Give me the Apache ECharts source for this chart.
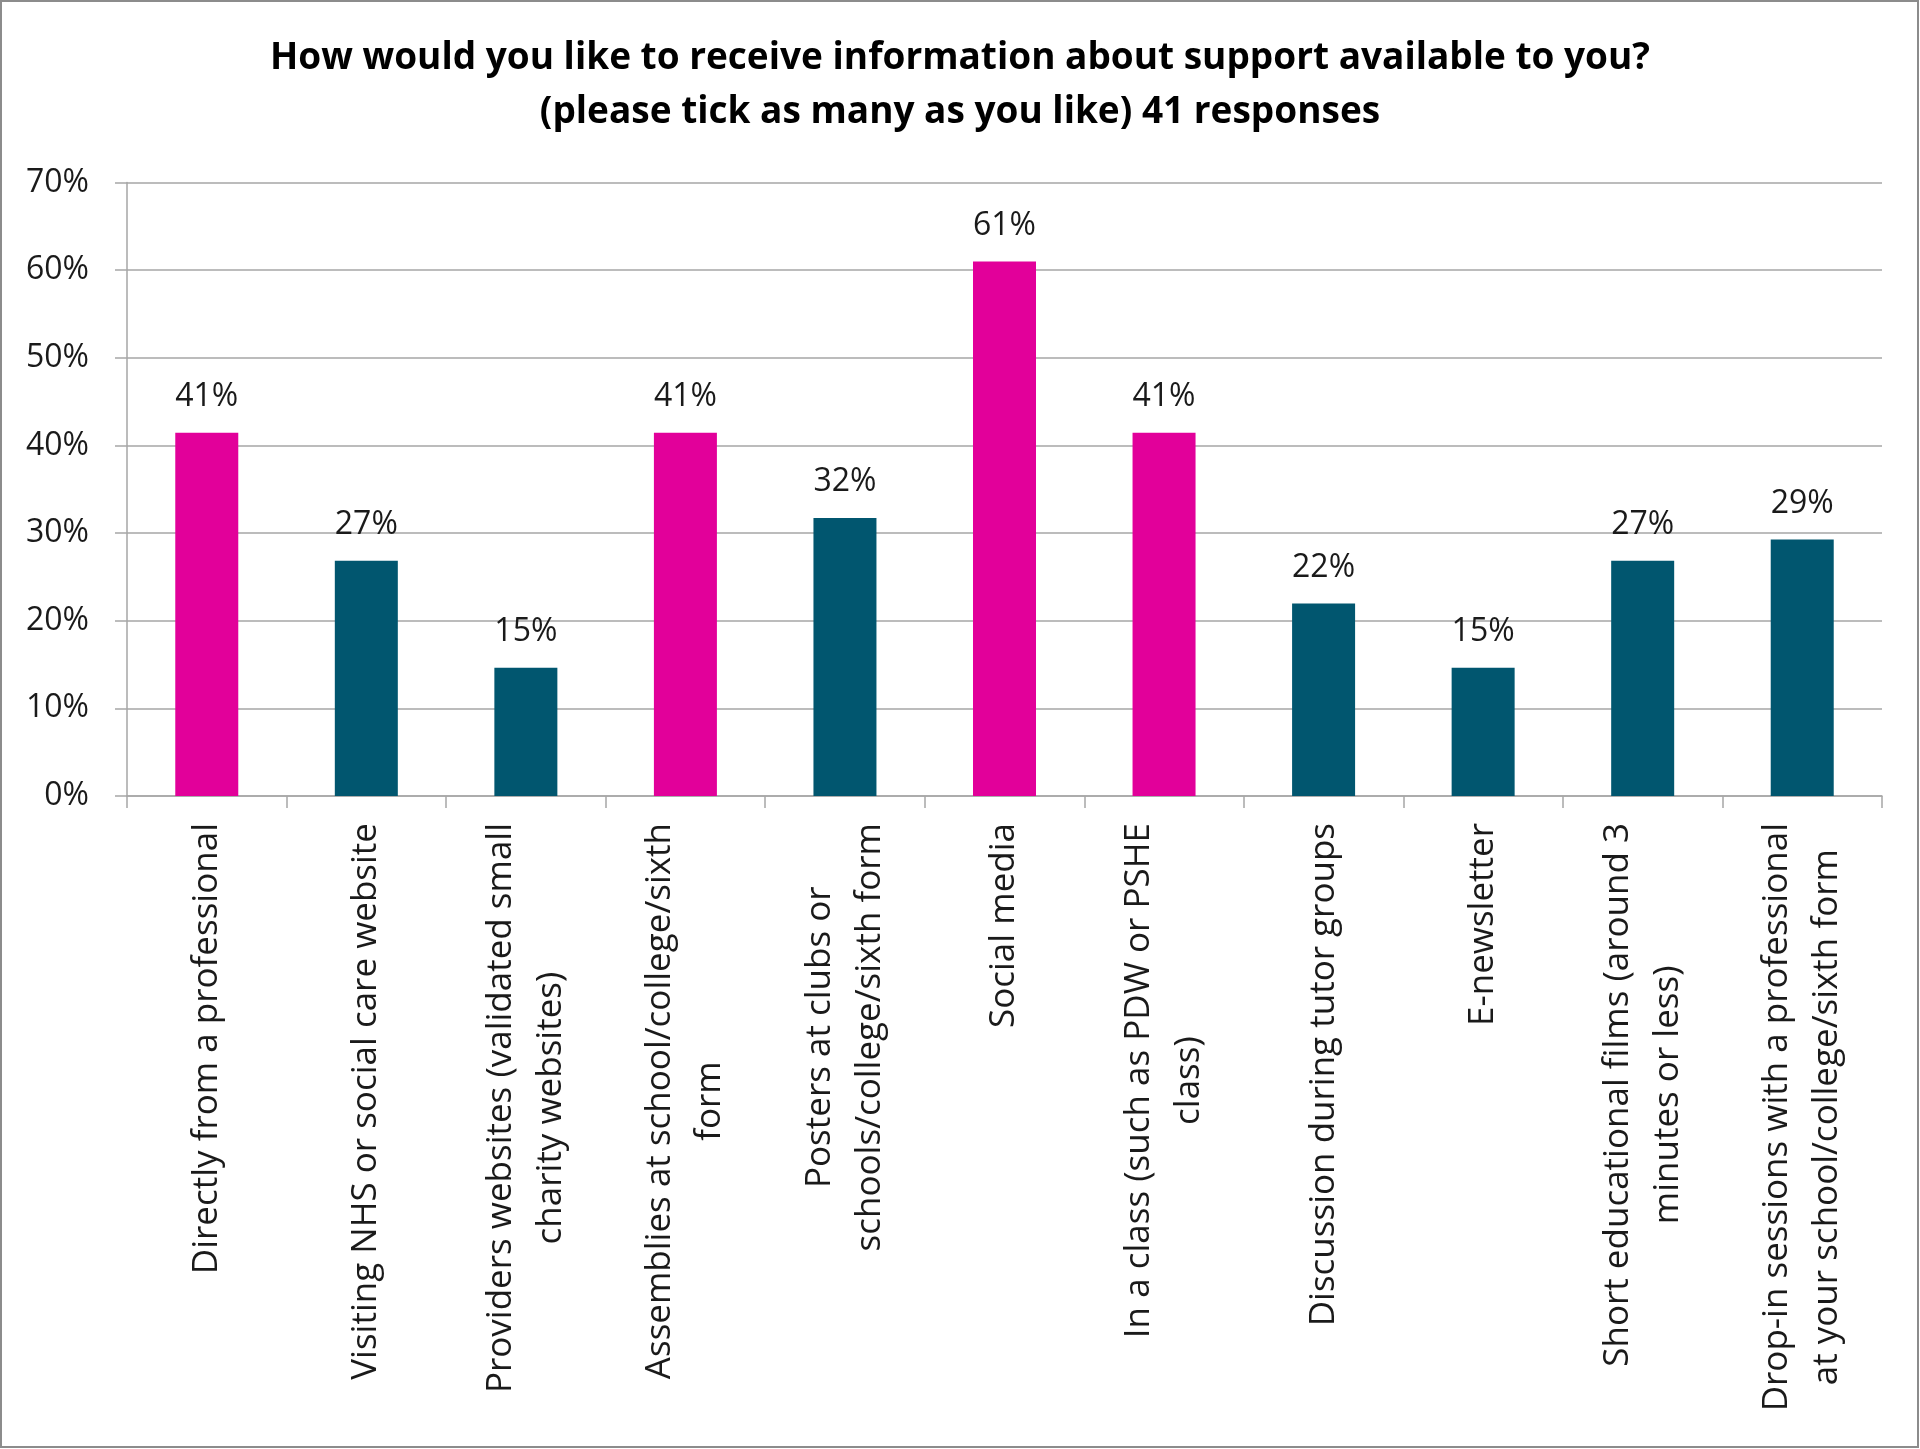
<!DOCTYPE html>
<html>
<head>
<meta charset="utf-8">
<style>
  html, body { margin: 0; padding: 0; background: #ffffff; }
  #chart { width: 1920px; height: 1449px; }
</style>
<script src="https://cdn.jsdelivr.net/npm/echarts@6/dist/echarts.min.js"></script>
</head>
<body>
<div id="chart"></div>
<script>
// ---- Data ----
const titleLines = [
  'How would you like to receive information about support available to you?',
  '(please tick as many as you like) 41 responses'
];
const categories = [
  'Directly from a professional',
  'Visiting NHS or social care website',
  'Providers websites (validated small\ncharity websites)',
  'Assemblies at school/college/sixth\nform',
  'Posters at clubs or\nschools/college/sixth form',
  'Social media',
  'In a class (such as PDW or PSHE\nclass)',
  'Discussion during tutor groups',
  'E-newsletter',
  'Short educational films (around 3\nminutes or less)',
  'Drop-in sessions with a professional\nat your school/college/sixth form'
];
const values = [41.46, 26.83, 14.63, 41.46, 31.71, 60.98, 41.46, 21.95, 14.63, 26.83, 29.27];
const highlighted = [0, 3, 5, 6];
const yTicks = [0, 10, 20, 30, 40, 50, 60, 70];

// ---- Style ----
const PINK = '#E2009A';
const TEAL = '#01566F';
const GRID = '#A6A6A6';
const FONT = '"Open Sans", Lato, "Noto Sans", sans-serif';

const chart = echarts.init(document.getElementById('chart'), null, { renderer: 'canvas' });

const option = {
  backgroundColor: '#ffffff',
  animation: false,
  title: {
    text: titleLines.join('\n'),
    left: 'center',
    top: 26,
    textStyle: {
      fontFamily: FONT,
      fontSize: 37,
      fontWeight: 'bold',
      color: '#000000',
      lineHeight: 54
    }
  },
  graphic: [{
    type: 'rect',
    shape: { x: 1, y: 1, width: 1917, height: 1446 },
    style: { fill: 'none', stroke: '#8C8C8C', lineWidth: 2 },
    silent: true
  }],
  grid: {
    left: 127,
    right: 38,
    top: 182.5,
    height: 613.5,
    containLabel: false
  },
  xAxis: {
    type: 'category',
    data: categories,
    boundaryGap: true,
    axisLine: { show: true, lineStyle: { color: GRID, width: 1.5 } },
    axisTick: { show: true, length: 12, lineStyle: { color: GRID, width: 1.5 } },
    axisLabel: {
      interval: 0,
      rotate: 90,
      margin: 27,
      color: '#1a1a1a',
      fontFamily: FONT,
      fontSize: 35,
      lineHeight: 50,
      formatter: function (v) {
        return v.split('\n').map(function (l) { return '{c|' + l + '}'; }).join('\n');
      },
      rich: {
        c: {
          align: 'center',
          fontFamily: FONT,
          fontSize: 35,
          lineHeight: 50,
          color: '#1a1a1a'
        }
      }
    }
  },
  yAxis: {
    type: 'value',
    min: yTicks[0],
    max: yTicks[yTicks.length - 1],
    interval: 10,
    axisLine: { show: true, lineStyle: { color: GRID, width: 1.5 } },
    axisTick: { show: true, length: 12, lineStyle: { color: GRID, width: 1.5 } },
    splitLine: { show: true, lineStyle: { color: GRID, width: 1.5 } },
    axisLabel: {
      margin: 38,
      color: '#1a1a1a',
      fontFamily: FONT,
      fontSize: 32,
      formatter: '{value}%'
    }
  },
  series: [{
    type: 'bar',
    data: values.map(function (v, i) {
      return {
        value: v,
        itemStyle: { color: highlighted.indexOf(i) >= 0 ? PINK : TEAL }
      };
    }),
    barWidth: 63,
    label: {
      show: true,
      position: 'top',
      distance: 20,
      color: '#1a1a1a',
      fontFamily: FONT,
      fontSize: 32,
      formatter: function (p) { return Math.round(p.value) + '%'; }
    }
  }]
};

chart.setOption(option);
</script>
</body>
</html>
